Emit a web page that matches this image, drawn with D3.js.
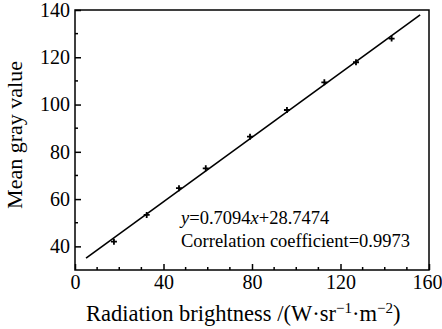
<!DOCTYPE html>
<html>
<head>
<meta charset="utf-8">
<script src="https://cdn.jsdelivr.net/npm/d3@7"></script>
<style>
  body { margin: 0; background: #fff; }
  text { font-family: "Liberation Serif", "Times New Roman", serif; fill: #000; }
</style>
</head>
<body>
<svg id="chart"></svg>
<script>
// measured points
var radiance = [17.6, 32.4, 47, 59.1, 79.1, 95.8, 112.7, 127, 143.1];
var grayValue = [42, 53.3, 64.6, 73, 86.4, 97.7, 109.4, 117.9, 127.9];
// fitted line ends as drawn
var fitX = [5, 156];
var fitY = [35, 137.9];
var xTicks = [0, 40, 80, 120, 160];
var yTicks = [40, 60, 80, 100, 120, 140];
var eqText = "0.7094";
var eqTail = "+28.7474";
var corrText = "Correlation coefficient=0.9973";

var margin = {top: 10, right: 13, bottom: 59, left: 75},
    width = 442 - margin.left - margin.right,
    height = 329 - margin.top - margin.bottom;

var svg = d3.select("#chart")
    .attr("width", 442)
    .attr("height", 329)
    .append("g")
    .attr("transform", "translate(" + margin.left + "," + margin.top + ")");

var x = d3.scaleLinear().domain([0, 160]).range([0, width]);
var y = d3.scaleLinear().domain([30, 140]).range([height, 0]);

// minor ticks (inward)
var xMinor = d3.range(10, 160, 10).filter(function (d) { return d % 40 != 0; });
var yMinor = d3.range(50, 140, 20);

svg.selectAll(".xminor")
    .data(xMinor)
    .enter().append("line")
    .attr("x1", function (d) { return x(d); })
    .attr("x2", function (d) { return x(d); })
    .attr("y1", height)
    .attr("y2", height - 3)
    .attr("stroke", "#000")
    .attr("stroke-width", 1.5);

svg.selectAll(".yminor")
    .data(yMinor)
    .enter().append("line")
    .attr("x1", 0)
    .attr("x2", 3)
    .attr("y1", function (d) { return y(d); })
    .attr("y2", function (d) { return y(d); })
    .attr("stroke", "#000")
    .attr("stroke-width", 1.5);

var xAxis = d3.axisBottom(x).tickValues(xTicks).tickSize(-6).tickPadding(5);
var yAxis = d3.axisLeft(y).tickValues(yTicks).tickSize(-6).tickPadding(5);

svg.append("g")
    .attr("class", "x axis")
    .attr("transform", "translate(0," + height + ")")
    .call(xAxis)
    .call(function (g) { g.select(".domain").remove(); })
    .selectAll("text")
    .style("font-size", "20px")
    .style("font-family", "Liberation Serif")
    .attr("dx", function (d) { return d == 160 ? -2 : 0; });

svg.append("g")
    .attr("class", "y axis")
    .call(yAxis)
    .call(function (g) { g.select(".domain").remove(); })
    .selectAll("text")
    .style("font-size", "20px")
    .style("font-family", "Liberation Serif");

svg.selectAll(".tick line").attr("stroke-width", 1.5);

// frame
svg.append("rect")
    .attr("x", 0)
    .attr("y", 0)
    .attr("width", width)
    .attr("height", height)
    .attr("fill", "none")
    .attr("stroke", "#000")
    .attr("stroke-width", 1.5);

// fit line
svg.append("line")
    .attr("x1", x(fitX[0]))
    .attr("y1", y(fitY[0]))
    .attr("x2", x(fitX[1]))
    .attr("y2", y(fitY[1]))
    .attr("stroke", "#000")
    .attr("stroke-width", 1.6);

// markers
var pts = radiance.map(function (d, i) { return {x: d, y: grayValue[i]}; });
svg.selectAll(".pt")
    .data(pts)
    .enter().append("path")
    .attr("class", "pt")
    .attr("transform", function (d) { return "translate(" + x(d.x) + "," + y(d.y) + ")"; })
    .attr("d", "M-3,0H3M0,-3V3")
    .attr("stroke", "#000")
    .attr("stroke-width", 1.8)
    .attr("fill", "none");

// annotation
var eq = svg.append("text")
    .attr("x", 106)
    .attr("y", 214)
    .style("font-size", "18.5px");
eq.append("tspan").style("font-style", "italic").text("y");
eq.append("tspan").text("=" + eqText);
eq.append("tspan").style("font-style", "italic").text("x");
eq.append("tspan").text(eqTail);

svg.append("text")
    .attr("x", 106)
    .attr("y", 237)
    .style("font-size", "18.5px")
    .text(corrText);

// axis titles
var xt = svg.append("text")
    .attr("x", 11)
    .attr("y", 311)
    .style("font-size", "22.5px");
xt.append("tspan").text("Radiation brightness /(W\u00b7sr");
xt.append("tspan").attr("dy", -8).style("font-size", "15px").text("\u22121");
xt.append("tspan").attr("dy", 8).text("\u00b7m");
xt.append("tspan").attr("dy", -8).style("font-size", "15px").text("\u22122");
xt.append("tspan").attr("dy", 8).text(")");

svg.append("text")
    .attr("transform", "translate(-53,125) rotate(-90)")
    .attr("text-anchor", "middle")
    .style("font-size", "22px")
    .text("Mean gray value");
</script>
</body>
</html>
